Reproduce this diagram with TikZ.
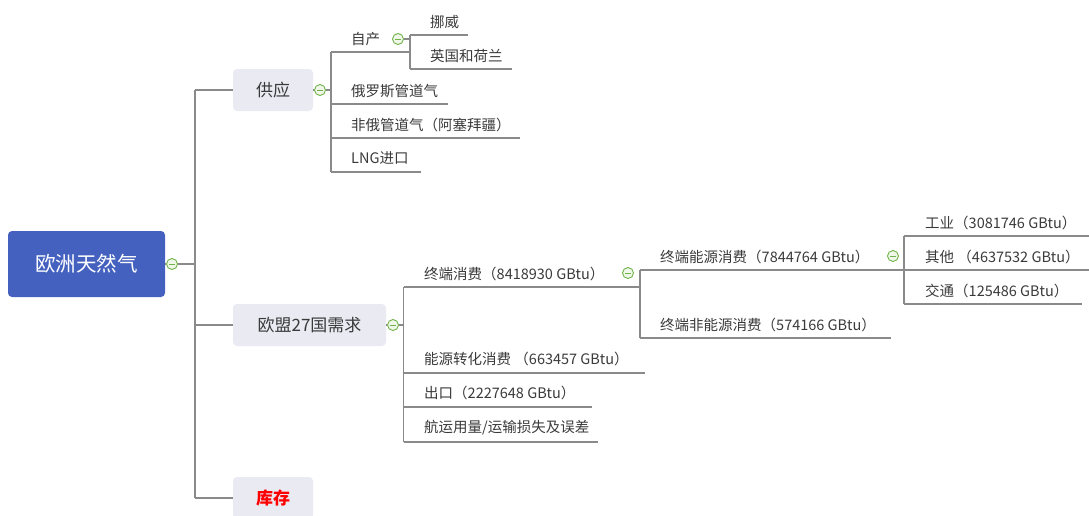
\documentclass[tikz,border=0pt]{standalone}
\usepackage{fontspec}
\setmainfont{Noto Sans CJK SC}
\newfontfamily\cjkfont{Noto Sans CJK SC}
\definecolor{rootblue}{HTML}{4461BF}
\definecolor{boxgray}{HTML}{E9EAF2}
\definecolor{linegray}{HTML}{8A8A8A}
\definecolor{txtgray}{HTML}{3A3A3A}
\definecolor{cgreen}{HTML}{72B24A}
\definecolor{cfill}{HTML}{EEF7E8}
\begin{document}
\begin{tikzpicture}[x=1pt,y=-1pt,
  conn/.style={draw=linegray,line width=1.2pt},
  rootbox/.style={rectangle,rounded corners=4pt,fill=rootblue,text=white,minimum width=157pt,minimum height=66pt,inner sep=0pt,font=\cjkfont\fontsize{20.5}{24}\selectfont},
  topicbox/.style={rectangle,rounded corners=4pt,fill=boxgray,text=txtgray,minimum height=42pt,inner sep=0pt,font=\cjkfont\fontsize{17}{20}\selectfont},
  leaf/.style={anchor=west,inner sep=0pt,text=txtgray,font=\cjkfont\fontsize{14.5}{16}\selectfont},
  collapse/.style={circle,draw=cgreen,fill=cfill,line width=0.9pt,minimum size=11pt,inner sep=0pt,
    path picture={\draw[cgreen,line width=0.9pt] ([xshift=-2.8pt]path picture bounding box.center) -- ([xshift=2.8pt]path picture bounding box.center);}}
]
\useasboundingbox (0,0) rectangle (1089,515);

% root
\node[rootbox] (root) at (86.5,264) {欧洲天然气};
\node[collapse] (c0) at (172,264) {};
\coordinate (tm) at (195,264);
\coordinate (t1) at (195,90);
\coordinate (t2) at (195,325);
\coordinate (t3) at (195,498);
\draw[conn] (root.east) -- (c0.west);
\draw[conn] (c0.east) -- (tm);
\draw[conn] (t1) -- (t3);

% level 1
\node[topicbox,minimum width=80pt] (supply) at (273,90) {供应};
\node[topicbox,minimum width=153pt] (demand) at (309.5,325) {欧盟27国需求};
\node[topicbox,minimum width=80pt,text=red,font=\cjkfont\bfseries\fontsize{17}{20}\selectfont] (stock) at (273,498) {库存};
\draw[conn] (t1) -- (supply.west);
\draw[conn] (t2) -- (demand.west);
\draw[conn] (t3) -- (stock.west);

% supply branch
\node[collapse] (c1) at (320,90) {};
\coordinate (s0) at (331,90);
\coordinate (sTop) at (331,52);
\coordinate (sBot) at (331,172);
\draw[conn] (supply.east) -- (c1.west);
\draw[conn] (c1.east) -- (s0);
\draw[conn] (sTop) -- (sBot);

\node[leaf] (zichan) at (351,39) {自产};
\coordinate (zE) at (410,52);
\draw[conn] (sTop) -- (zE);
\node[collapse] (c11) at (398,39) {};
\coordinate (zc) at (410,39);
\coordinate (zTop) at (410,35);
\coordinate (zBot) at (410,69);
\draw[conn] (c11.east) -- (zc);
\draw[conn] (zTop) -- (zBot);
\node[leaf] (nuowei) at (430,22) {挪威};
\coordinate (nE) at (468,35);
\draw[conn] (zTop) -- (nE);
\node[leaf] (yingguo) at (430,56) {英国和荷兰};
\coordinate (yE) at (512,69);
\draw[conn] (zBot) -- (yE);

\node[leaf] (eluosi) at (351,91) {俄罗斯管道气};
\coordinate (eS) at (331,104); \coordinate (eE) at (448,104);
\draw[conn] (eS) -- (eE);
\node[leaf] (feie) at (351,125) {非俄管道气（阿塞拜疆）};
\coordinate (fS) at (331,138); \coordinate (fE) at (520,138);
\draw[conn] (fS) -- (fE);
\node[leaf] (lng) at (351,158) {LNG进口};
\coordinate (lE) at (421,172);
\draw[conn] (sBot) -- (lE);

% demand branch
\node[collapse] (c2) at (393,325) {};
\coordinate (d0) at (403.5,325);
\coordinate (dTop) at (403.5,287);
\coordinate (dBot) at (403.5,442);
\draw[conn] (demand.east) -- (c2.west);
\draw[conn] (c2.east) -- (d0);
\draw[conn] (dTop) -- (dBot);

\node[leaf] (zhongduan) at (424,274) {终端消费（8418930 GBtu）};
\coordinate (zdE) at (640,287);
\draw[conn] (dTop) -- (zdE);
\node[collapse] (c21) at (628,273) {};
\coordinate (zdTop) at (640,270);
\coordinate (zdBot) at (640,338);
\draw[conn] (zdTop) -- (zdBot);

\node[leaf] (nengyuan) at (660,257) {终端能源消费（7844764 GBtu）};
\coordinate (nyE) at (904,270);
\draw[conn] (zdTop) -- (nyE);
\node[collapse] (c211) at (893,256) {};
\node[leaf] (feinengyuan) at (660,325) {终端非能源消费（574166 GBtu）};
\coordinate (fnE) at (891,338);
\draw[conn] (zdBot) -- (fnE);

\coordinate (gTop) at (904,236);
\coordinate (gBot) at (904,304);
\draw[conn] (gTop) -- (gBot);
\node[leaf] (gongye) at (925,223) {工业（3081746 GBtu）};
\coordinate (gyE) at (1089,236);
\draw[conn] (gTop) -- (gyE);
\node[leaf] (qita) at (925,257) {其他 （4637532 GBtu）};
\coordinate (qtE) at (1089,270);
\draw[conn] (nyE) -- (qtE);
\node[leaf] (jiaotong) at (925,291) {交通（125486 GBtu）};
\coordinate (jtE) at (1082,304);
\draw[conn] (gBot) -- (jtE);

\node[leaf] (zhuanhua) at (424,359) {能源转化消费 （663457 GBtu）};
\coordinate (zhS) at (403.5,373); \coordinate (zhE) at (645,373);
\draw[conn] (zhS) -- (zhE);
\node[leaf] (chukou) at (424,393) {出口（2227648 GBtu）};
\coordinate (ckS) at (403.5,407); \coordinate (ckE) at (592,407);
\draw[conn] (ckS) -- (ckE);
\node[leaf] (hangyun) at (424,428) {航运用量/运输损失及误差};
\coordinate (hyE) at (598,442);
\draw[conn] (dBot) -- (hyE);
\end{tikzpicture}
\end{document}
